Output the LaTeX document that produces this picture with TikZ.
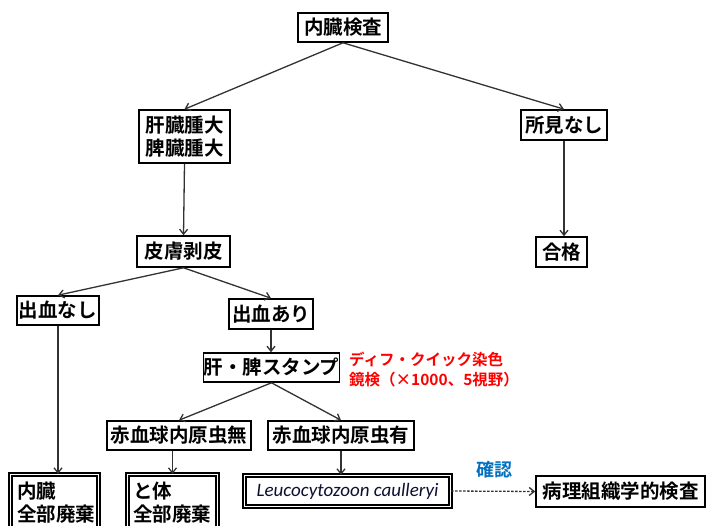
\documentclass[tikz,border=0pt]{standalone}
\usepackage{fontspec}
\setmainfont{Noto Sans CJK JP}[BoldFont={Noto Sans CJK JP Bold}]
\newfontfamily\latinit{Carlito}
\usetikzlibrary{arrows.meta}
\definecolor{linegray}{RGB}{50,50,50}
\definecolor{confirmblue}{RGB}{0,112,192}
\definecolor{leucocol}{RGB}{15,15,50}
\definecolor{notered}{RGB}{255,0,0}
\begin{document}
\begin{tikzpicture}[x=1pt,y=-1pt,
  box/.style={draw=black, line width=1.6pt, fill=white, inner sep=0pt,
    font=\fontsize{19.5}{23}\selectfont\bfseries, align=center},
  dbox/.style={box, double, line width=1.3pt, double distance=1.8pt},
  arr/.style={draw=linegray, line width=1.3pt, -{Straight Barb[length=5pt,width=8pt]}},
  darr/.style={arr, dash pattern=on 2.5pt off 1.5pt}]
\useasboundingbox (0,0) rectangle (707,526);
% nodes
\node[box, minimum width=90pt, minimum height=29pt] (top) at (343,27.5) {内臓検査};
\node[box, minimum width=91pt, minimum height=53pt] (liver) at (184.5,136.5) {肝臓腫大\\脾臓腫大};
\node[box, minimum width=86pt, minimum height=30pt] (none) at (564,125) {所見なし};
\node[box, minimum width=51pt, minimum height=30pt] (pass) at (561.5,252) {合格};
\node[box, minimum width=93pt, minimum height=31pt] (skin) at (183.5,251.5) {皮膚剥皮};
\node[box, minimum width=82pt, minimum height=29pt] (nobleed) at (58,310.5) {出血なし};
\node[box, minimum width=84pt, minimum height=30pt] (bleed) at (271,314) {出血あり};
\node[box, minimum width=125pt, minimum height=29pt] (stamp) at (271.5,367.5) {肝・脾スタンプ};
\node[box, minimum width=144pt, minimum height=29pt] (rbcno) at (179,435.5) {赤血球内原虫無};
\node[box, minimum width=146pt, minimum height=29pt] (rbcyes) at (341,435.5) {赤血球内原虫有};
\node[dbox, align=left, text width=75pt, inner xsep=6.5pt, minimum height=57pt] (disc1) at (54.5,503) {内臓\\全部廃棄};
\node[dbox, align=left, text width=79pt, inner xsep=5.5pt, minimum height=57pt] (disc2) at (172.5,503) {と体\\全部廃棄};
\node[dbox, minimum width=206pt, minimum height=31pt,
  font=\latinit\itshape\fontsize{19}{22}\selectfont, text=leucocol] (leuco) at (347.5,491) {Leucocytozoon caulleryi};
\node[box, minimum width=169pt, minimum height=31pt] (patho) at (620.5,491.5) {病理組織学的検査};
\node[anchor=west, inner sep=0pt, align=left, text=notered,
  font=\fontsize{15.5}{20}\selectfont\bfseries] (note) at (349,370) {ディフ・クイック染色\\鏡検（×1000、5視野）};
\node[inner sep=0pt, text=confirmblue, font=\fontsize{18}{20}\selectfont\bfseries] (confirm) at (494,470) {確認};
% connectors
\draw[arr] (top.south) -- (liver.north);
\draw[arr] (top.south) -- (none.north);
\draw[arr] (liver.south) -- (skin.north);
\draw[arr] (none.south) -- (none.south |- pass.north);
\draw[arr] (skin.south) -- (nobleed.north);
\draw[arr] (skin.south) -- (bleed.north);
\draw[arr] (bleed.south) -- (bleed.south |- stamp.north);
\draw[arr] (stamp.south) -- (rbcno.north);
\draw[arr] (stamp.south) -- (rbcyes.north);
\draw[arr] (nobleed.south) -- (nobleed.south |- disc1.north);
\draw[arr] (disc2.north |- rbcno.south) -- (disc2.north);
\draw[arr] (rbcyes.south) -- (rbcyes.south |- leuco.north);
\draw[darr] (leuco.east) -- (patho.west);
\end{tikzpicture}
\end{document}
